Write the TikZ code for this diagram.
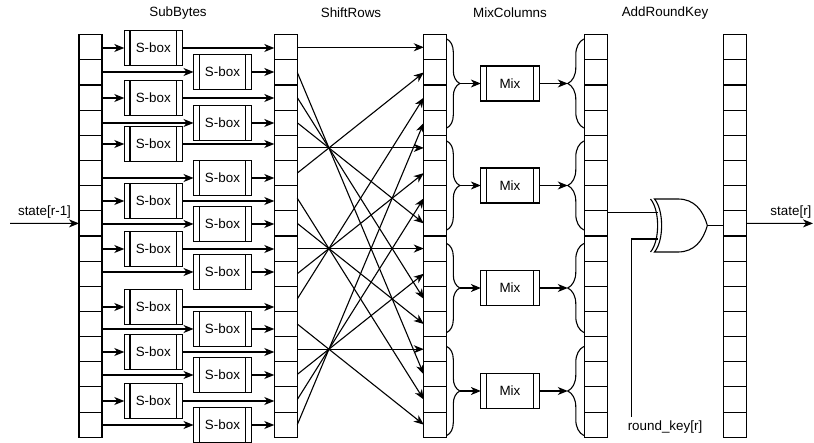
\documentclass[tikz,border=0pt]{standalone}
\usepackage{fontspec}
\setmainfont{Liberation Sans}
\usetikzlibrary{arrows.meta,decorations.pathreplacing}

\begin{document}
\begin{tikzpicture}
[x=1pt, y=-1pt, ->, >={Stealth[length=10pt,width=8pt,inset=3pt]}, line width=1.1pt,
font=\fontsize{13.4}{16}\selectfont,
cell/.style={draw, minimum width=23pt, minimum height=25.16pt, inner sep=0pt, outer sep=0pt},
process/.style={draw, minimum height=35pt, inner sep=0pt, outer sep=0pt,
	path picture={\draw[-] ([xshift=5.7pt]path picture bounding box.north west) -- ([xshift=5.7pt]path picture bounding box.south west)
	([xshift=-5.7pt]path picture bounding box.north east) -- ([xshift=-5.7pt]path picture bounding box.south east);}},
sbox/.style={process, minimum width=58pt},
mixbox/.style={process, minimum width=58.3pt},
rbrace/.style={-, decorate, decoration={brace, amplitude=13pt}},
lbrace/.style={-, decorate, decoration={brace, amplitude=16pt}}
]
  \useasboundingbox (0,0) rectangle (814,443);

  \node (tsub) at (178,13) {SubBytes};
  \node (tshift) at (351,13) {ShiftRows};
  \node (tmix) at (510,13) {MixColumns};
  \node (tkey) at (665,13) {AddRoundKey};

  \foreach \i in {0,...,15} {
	\node[cell] (in-\i)  at (90.5, {47.28+25.16*\i}) {};
	\node[cell] (sb-\i)  at (285.8,{47.28+25.16*\i}) {};
	\node[cell] (sr-\i)  at (435.3,{47.28+25.16*\i}) {};
	\node[cell] (mc-\i)  at (596.3,{47.28+25.16*\i}) {};
	\node[cell] (out-\i) at (734.7,{47.28+25.16*\i}) {};
  }

  \foreach \i/\x/\y in {0/153.3/48, 1/222.5/72, 2/153.3/98, 3/222.5/123, 4/153.3/144, 5/222.5/178,
	6/153.3/201, 7/222.5/224, 8/153.3/249, 9/222.5/272, 10/153.3/307, 11/222.5/329,
	12/153.3/352, 13/222.5/375, 14/153.3/401, 15/222.5/425} {
	\node[sbox] (sbx-\i) at (\x,\y) {S-box};
	\draw (sbx-\i.west -| in-\i.east) -- (sbx-\i.west);
	\draw (sbx-\i.east) -- (sbx-\i.east -| sb-\i.west);
  }

  \foreach \i/\o in {0/0,1/13,2/10,3/7,4/4,5/1,6/14,7/11,8/8,9/5,10/2,11/15,12/12,13/9,14/6,15/3}
	\draw (sb-\i.east) -- (sr-\o.west);

  \foreach \g/\y in {1/83.5, 2/185.5, 3/288, 4/391} {
	\node[mixbox] (mix-\g) at (510,\y) {Mix};
	\coordinate (lb-\g) at (mix-\g.west -| sr-0.east);
	\coordinate (rb-\g) at (mix-\g.east -| mc-0.west);
	\draw[rbrace] ([yshift=44.5pt]lb-\g) -- ([yshift=-44.5pt]lb-\g);
	\draw[lbrace] ([xshift=-1pt,yshift=-44.5pt]rb-\g) -- ([xshift=-1pt,yshift=44.5pt]rb-\g);
	\draw ([xshift=13pt]lb-\g) -- (mix-\g.west);
	\draw (mix-\g.east) -- ([xshift=-17pt]rb-\g);
  }

  \coordinate (xin1) at (658,212.3);
  \coordinate (xin2) at (658,239);
  \coordinate (xout) at (707.3,225.5);
  \draw[-] (650.5,199) .. controls (660,210) and (660,241) .. (650.5,252);
  \draw[-] (654.5,199) -- (678,199) .. controls (694,199) and (703,210) .. (xout)
	.. controls (703,241) and (694,252) .. (678,252) -- (654.5,252)
	.. controls (664,241) and (664,210) .. cycle;
  \draw[-] (xin1 -| mc-7.east) -- (xin1);
  \draw[-] (xout) -- (xout -| out-7.west);
  \node (keytxt) at (665,427) {round\_key[r]};
  \draw[-] ([xshift=7.7pt]keytxt.north west) |- (xin2);

  \coordinate (src) at (10,223.4);
  \coordinate (dst) at (813,223.4);
  \draw (src) -- node[above=1pt] {state[r-1]} (in-7.west);
  \draw (out-7.east) -- node[above left=1pt, pos=1, inner xsep=0pt] {state[r]} (dst);
\end{tikzpicture}
\end{document}
